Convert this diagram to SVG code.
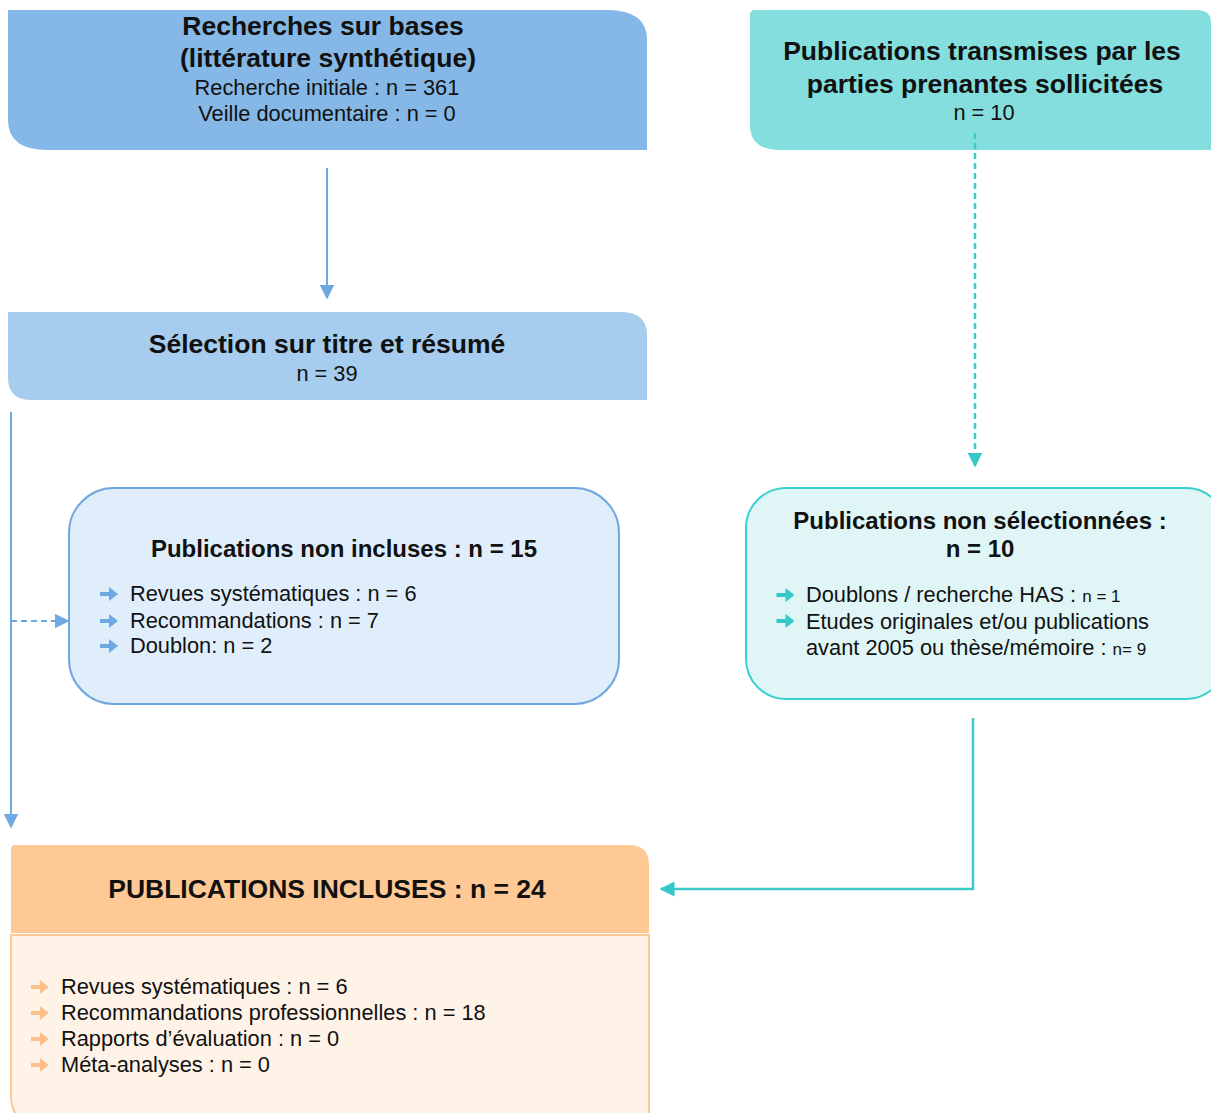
<svg xmlns="http://www.w3.org/2000/svg" width="1211" height="1113" viewBox="0 0 1211 1113">
<style>
text{font-family:"Liberation Sans",Arial,sans-serif;fill:#111;}
.t{font-weight:bold;font-size:26.5px;text-anchor:middle;}
.t2{font-weight:bold;font-size:24px;text-anchor:middle;}
.s{font-size:21.8px;text-anchor:middle;}
.i{font-size:21.8px;}
.sm{font-size:17px;}
.bl{stroke:#6ea9e4;stroke-width:2;fill:none;}
.tl{stroke:#3ccbcb;stroke-width:2.5;fill:none;}
</style>
<defs>
<marker id="abb" viewBox="0 0 10 10" refX="9" refY="5" markerWidth="15" markerHeight="15" markerUnits="userSpaceOnUse" orient="auto"><path d="M0,0 L10,5 L0,10 Z" fill="#6ea9e4"/></marker>
<marker id="at" viewBox="0 0 10 10" refX="9" refY="5" markerWidth="15" markerHeight="15" markerUnits="userSpaceOnUse" orient="auto"><path d="M0,0 L10,5 L0,10 Z" fill="#35c8c8"/></marker>
<symbol id="bul" viewBox="0 0 18 14" overflow="visible"><path d="M0,5 H9 V0 L18,7 L9,14 V9 H0 Z"/></symbol>
</defs>

<g id="n1">
<path d="M8,10 H607 Q647,10 647,40 V150 H48 Q8,150 8,120 Z" fill="#85b8e6"/>
<text class="t" x="323" y="35">Recherches sur bases</text>
<text class="t" x="328" y="67">(littérature synthétique)</text>
<text class="s" x="327" y="95">Recherche initiale : n = 361</text>
<text class="s" x="327" y="121">Veille documentaire : n = 0</text>
</g>

<g id="n2">
<path d="M755,10 H1196 Q1211,10 1211,22 V150 H780 Q750,150 750,125 V15 Q750,10 755,10 Z" fill="#84dedd"/>
<text class="t" x="982" y="60">Publications transmises par les</text>
<text class="t" x="985" y="93">parties prenantes sollicitées</text>
<text class="s" x="984" y="120">n = 10</text>
</g>

<g id="n3">
<path d="M8,312 H620 Q647,312 647,335 V400 H32 Q8,400 8,378 Z" fill="#a6ccee"/>
<text class="t" x="327" y="353">Sélection sur titre et résumé</text>
<text class="s" x="327" y="381">n = 39</text>
</g>

<g id="n4">
<rect x="69" y="488" width="550" height="216" rx="45" ry="45" fill="#e0eefc" stroke="#6fa8e0" stroke-width="2"/>
<text class="t2" x="344" y="557">Publications non incluses : n = 15</text>
<g fill="#6ea9e4">
<use href="#bul" x="100" y="587" width="18" height="14"/>
<use href="#bul" x="100" y="614" width="18" height="14"/>
<use href="#bul" x="100" y="639" width="18" height="14"/>
</g>
<text class="i" x="130" y="601">Revues systématiques : n = 6</text>
<text class="i" x="130" y="628">Recommandations : n = 7</text>
<text class="i" x="130" y="653">Doublon: n = 2</text>
</g>

<g id="n5">
<rect x="746" y="488" width="480" height="211" rx="40" ry="40" fill="#e0f6f6" stroke="#3ccfcf" stroke-width="2"/>
<text class="t2" x="980" y="529">Publications non sélectionnées :</text>
<text class="t2" x="980" y="557">n = 10</text>
<g fill="#35c8c8">
<use href="#bul" x="776" y="588" width="19" height="14"/>
<use href="#bul" x="776" y="614" width="19" height="14"/>
</g>
<text class="i" x="806" y="602">Doublons / recherche HAS : <tspan class="sm">n = 1</tspan></text>
<text class="i" x="806" y="629">Etudes originales et/ou publications</text>
<text class="i" x="806" y="655">avant 2005 ou thèse/mémoire : <tspan class="sm">n= 9</tspan></text>
</g>

<g id="n6">
<path d="M11,935 H649 V1125 H41 Q11,1125 11,1095 Z" fill="#fff3e8" stroke="#ffc996" stroke-width="2"/>
<path d="M15,845 H629 Q649,845 649,865 V933 H11 V849 Q11,845 15,845 Z" fill="#ffc996"/>
<text class="t" x="327" y="898">PUBLICATIONS INCLUSES : n = 24</text>
<g fill="#fdc089">
<use href="#bul" x="31" y="980" width="18" height="14"/>
<use href="#bul" x="31" y="1006" width="18" height="14"/>
<use href="#bul" x="31" y="1032" width="18" height="14"/>
<use href="#bul" x="31" y="1058" width="18" height="14"/>
</g>
<text class="i" x="61" y="994">Revues systématiques : n = 6</text>
<text class="i" x="61" y="1020">Recommandations professionnelles : n = 18</text>
<text class="i" x="61" y="1046">Rapports d’évaluation  : n = 0</text>
<text class="i" x="61" y="1072">Méta-analyses  : n = 0</text>
</g>

<g id="connectors">
<line class="bl" x1="327" y1="168" x2="327" y2="298" marker-end="url(#abb)"/>
<line class="bl" x1="11" y1="412" x2="11" y2="827" marker-end="url(#abb)"/>
<line class="bl" x1="11" y1="621" x2="68" y2="621" stroke-dasharray="6,4" marker-end="url(#abb)"/>
<line class="tl" x1="975" y1="133" x2="975" y2="466" stroke-dasharray="6,4" stroke-width="2" marker-end="url(#at)"/>
<polyline class="tl" points="973,718 973,889 661,889" marker-end="url(#at)"/>
</g>
</svg>
